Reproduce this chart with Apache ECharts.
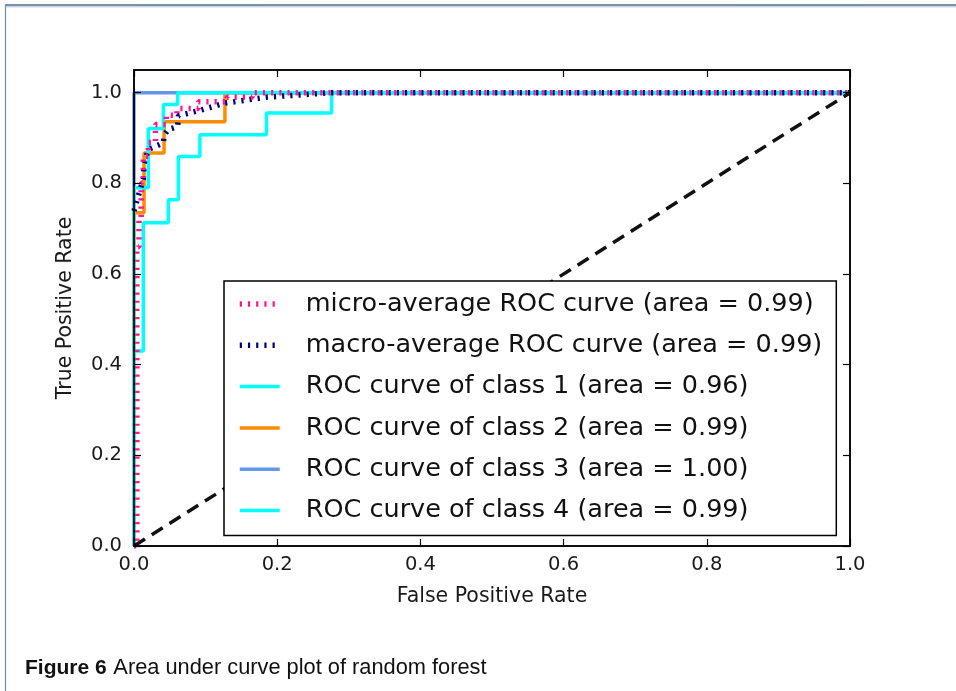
<!DOCTYPE html>
<html><head><meta charset="utf-8">
<script src="https://cdn.jsdelivr.net/npm/echarts@6/dist/echarts.min.js"></script>
<style>html,body{margin:0;padding:0;background:#fff}#c{width:956px;height:691px}</style>
</head><body><div id="c"></div><script>
// ---- data ----
const xTicks = [0, 0.2, 0.4, 0.6, 0.8, 1.0];
const yTicks = [0, 0.2, 0.4, 0.6, 0.8, 1.0];
const legendNames = [
  'micro-average ROC curve (area = 0.99)',
  'macro-average ROC curve (area = 0.99)',
  'ROC curve of class 1 (area = 0.96)',
  'ROC curve of class 2 (area = 0.99)',
  'ROC curve of class 3 (area = 1.00)',
  'ROC curve of class 4 (area = 0.99)'
];
const microFpr = [0, 0.004, 0.007, 0.010, 0.013, 0.020, 0.030, 0.045, 0.060, 0.090, 0.130, 0.165, 1];
const microTpr = [0, 0.66, 0.72, 0.80, 0.86, 0.89, 0.93, 0.95, 0.965, 0.98, 0.99, 1.0, 1.0];
const macroFpr = [0, 0.013, 0.014, 0.020, 0.041, 0.042, 0.048, 0.061, 0.062, 0.092, 0.127, 0.185, 0.276, 1];
const macroTpr = [0.739, 0.81, 0.843, 0.875, 0.889, 0.906, 0.919, 0.925, 0.949, 0.961, 0.977, 0.99, 1.0, 1.0];
const class1Fpr = [0, 0, 0.013, 0.048, 0.062, 0.092, 0.185, 0.276, 1];
const class1Tpr = [0, 0.43, 0.713, 0.764, 0.859, 0.907, 0.955, 1.0, 1.0];
const class2Fpr = [0, 0, 0.014, 0.042, 0.127, 1];
const class2Tpr = [0, 0.735, 0.867, 0.936, 1.0, 1.0];
const class3Fpr = [0, 0, 1];
const class3Tpr = [0, 1.0, 1.0];
const class4Fpr = [0, 0, 0.020, 0.041, 0.061, 1];
const class4Tpr = [0, 0.79, 0.921, 0.974, 1.0, 1.0];
const chanceX = [0, 1];
const chanceY = [0, 1];

function pairs(xs, ys) { return xs.map((x, i) => [x, ys[i]]); }
const FF = 'DejaVu Sans';
const chart = echarts.init(document.getElementById('c'), null, {renderer: 'canvas'});

function axisCommon(extra) {
  return Object.assign({
    type: 'value',
    axisLine: {show: true, onZero: false, lineStyle: {color: '#000', width: 1.5}},
    splitLine: {show: false},
    z: 5
  }, extra);
}
const tickStyle = {color: '#000', width: 1.2};
const labelStyle = {color: '#1a1a1a', fontSize: 19.5, fontFamily: FF};

function stepSeries(name, xs, ys, color, width, type, z) {
  return {
    name, type: 'line', data: pairs(xs, ys), step: 'end', symbol: 'none',
    lineStyle: {color, width, type, cap: 'butt'}, itemStyle: {color},
    z, animation: false
  };
}

chart.setOption({
  animation: false,
  backgroundColor: '#fff',
  grid: {left: 134, top: 70, width: 716, height: 476, show: true, borderColor: '#000', borderWidth: 1.5, backgroundColor: 'transparent', z: 5},
  xAxis: [
    axisCommon({min: 0, max: 1, position: 'bottom',
      axisTick: {inside: true, length: 7, customValues: xTicks, lineStyle: tickStyle},
      axisLabel: Object.assign({customValues: xTicks, margin: 9, formatter: v => v.toFixed(1)}, labelStyle),
      name: 'False Positive Rate', nameLocation: 'middle', nameGap: 40,
      nameTextStyle: {fontSize: 20.5, fontFamily: FF, color: '#1a1a1a'}}),
    axisCommon({min: 0, max: 1, position: 'top',
      axisTick: {inside: true, length: 7, customValues: xTicks, lineStyle: tickStyle},
      axisLabel: {show: false}})
  ],
  yAxis: [
    axisCommon({min: 0, max: 1.05, position: 'left',
      axisTick: {inside: true, length: 7, customValues: yTicks, lineStyle: tickStyle},
      axisLabel: Object.assign({customValues: yTicks, margin: 12, formatter: v => v.toFixed(1)}, labelStyle),
      name: 'True Positive Rate', nameLocation: 'middle', nameGap: 58,
      nameTextStyle: {fontSize: 20.5, fontFamily: FF, color: '#1a1a1a'}}),
    axisCommon({min: 0, max: 1.05, position: 'right',
      axisTick: {inside: true, length: 7, customValues: yTicks, lineStyle: tickStyle},
      axisLabel: {show: false}})
  ],
  legend: {
    orient: 'vertical', left: 224, top: 281, padding: [10, 14, 12, 13],
    itemWidth: 40, itemHeight: 14, itemGap: 15.3,
    backgroundColor: '#fff', borderColor: '#000', borderWidth: 1.5, borderRadius: 0,
    itemStyle: {color: 'rgba(0,0,0,0)', borderColor: 'rgba(0,0,0,0)', borderWidth: 0},
    lineStyle: {width: 'inherit', type: 'inherit', color: 'inherit'},
    textStyle: {fontSize: 25.5, fontFamily: FF, color: '#111', padding: [0, 0, 0, 21]},
    data: legendNames, z: 10
  },
  series: [
    stepSeries(legendNames[4], class3Fpr, class3Tpr, '#6495ED', 3.5, 'solid', 2),
    stepSeries(legendNames[3], class2Fpr, class2Tpr, '#FF8C00', 3.5, 'solid', 2),
    stepSeries(legendNames[2], class1Fpr, class1Tpr, '#00FFFF', 3.5, 'solid', 2),
    stepSeries(legendNames[5], class4Fpr, class4Tpr, '#00FFFF', 3.5, 'solid', 2),
    {name: legendNames[1], type: 'line', data: pairs(macroFpr, macroTpr), symbol: 'none',
      lineStyle: {color: '#000080', width: 5.5, type: [2.2, 6], cap: 'butt'}, itemStyle: {color: '#000080'}, z: 3},
    stepSeries(legendNames[0], microFpr, microTpr, '#FF1493', 5.5, [2.2, 6], 3),
    {name: 'chance', type: 'line', data: pairs(chanceX, chanceY), symbol: 'none',
      lineStyle: {color: '#111', width: 3.5, type: [13, 8]}, z: 4}
  ],
  graphic: [
    {type: 'line', shape: {x1: 5, y1: 5, x2: 956, y2: 5}, style: {stroke: '#4d6d8e', lineWidth: 1.6}, z: 100},
    {type: 'line', shape: {x1: 6, y1: 6.8, x2: 956, y2: 6.8}, style: {stroke: '#a9bfd4', lineWidth: 1}, z: 100},
    {type: 'line', shape: {x1: 5.5, y1: 5, x2: 5.5, y2: 691}, style: {stroke: '#6f8bab', lineWidth: 1.2}, z: 100},
    {type: 'text', left: 25, top: 657, z: 100,
      style: {text: '{b|Figure 6}  {n|Area under curve plot of random forest}',
        rich: {b: {fontWeight: 'bold', fontSize: 21, fontFamily: 'Liberation Sans', fill: '#111'},
               n: {fontSize: 21.8, fontFamily: 'Liberation Sans', fill: '#111'}}}}
  ]
});
</script></body></html>
